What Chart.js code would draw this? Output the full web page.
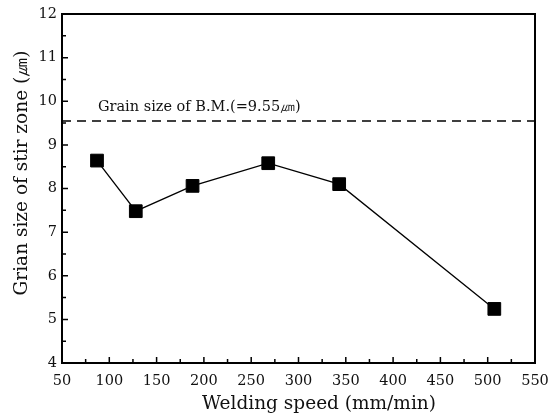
<!DOCTYPE html>
<html>
<head>
<meta charset="utf-8">
<script src="https://cdn.jsdelivr.net/npm/chart.js@4"></script>
<style>
  html, body { margin: 0; padding: 0; background: #fff; }
  #wrap { width: 560px; height: 417px; }
</style>
</head>
<body>
<div id="wrap"><canvas id="grainChart"></canvas></div>
<script>
  // data
  const speeds = [87, 128, 188, 268, 343, 507];
  const grainSizes = [8.64, 7.48, 8.06, 8.58, 8.10, 5.24];
  const baseMetal = 9.55;
  const baseMetalLabel = 'Grain size of B.M.(=9.55㎛)';
  const xTitle = 'Welding speed (mm/min)';
  const yTitle = 'Grian size of stir zone (㎛)';
  const xRange = [50, 550];
  const yRange = [4, 12];

  const serif = '"DejaVu Serif", "Liberation Serif", serif';

  // frame, inward ticks, annotation and axis titles
  const framePlugin = {
    id: 'frame',
    afterDatasetsDraw(chart) {
      const { ctx, chartArea: a, scales: { x, y } } = chart;
      ctx.save();
      ctx.strokeStyle = '#000';
      ctx.lineWidth = 2;
      ctx.strokeRect(a.left, a.top, a.right - a.left, a.bottom - a.top);

      ctx.lineWidth = 1.5;
      ctx.beginPath();
      for (let v = xRange[0] + 25; v < xRange[1]; v += 25) {
        const px = x.getPixelForValue(v);
        const len = v % 50 === 0 ? 6 : 4;
        ctx.moveTo(px, a.bottom);
        ctx.lineTo(px, a.bottom - len);
      }
      for (let v = yRange[0] + 0.5; v < yRange[1]; v += 0.5) {
        const py = y.getPixelForValue(v);
        const len = v % 1 === 0 ? 6 : 4;
        ctx.moveTo(a.left, py);
        ctx.lineTo(a.left + len, py);
      }
      ctx.stroke();

      ctx.fillStyle = '#111';
      ctx.font = '14.5px ' + serif;
      ctx.textBaseline = 'middle';
      ctx.textAlign = 'left';
      ctx.fillText(baseMetalLabel, x.getPixelForValue(88), y.getPixelForValue(9.87));

      ctx.font = '18.5px ' + serif;
      ctx.textAlign = 'center';
      ctx.fillText(xTitle, 319, 404);
      ctx.translate(22, 173);
      ctx.rotate(-Math.PI / 2);
      ctx.fillText(yTitle, 0, 0);
      ctx.restore();
    }
  };

  const ctx = document.getElementById('grainChart').getContext('2d');
  new Chart(ctx, {
    type: 'line',
    data: {
      datasets: [
        {
          data: speeds.map((s, i) => ({ x: s, y: grainSizes[i] })),
          borderColor: '#000',
          borderWidth: 1.3,
          pointStyle: 'rect',
          pointRadius: 9,
          pointBackgroundColor: '#000',
          pointBorderColor: '#000',
          pointBorderWidth: 1,
          tension: 0
        },
        {
          data: xRange.map(v => ({ x: v, y: baseMetal })),
          borderColor: '#000',
          borderWidth: 1.5,
          borderDash: [9, 6],
          pointRadius: 0
        }
      ]
    },
    options: {
      responsive: true,
      maintainAspectRatio: false,
      animation: false,
      layout: { padding: { left: 0, right: 25, top: 14, bottom: 0 } },
      plugins: { legend: { display: false }, tooltip: { enabled: false } },
      scales: {
        x: {
          type: 'linear',
          min: xRange[0], max: xRange[1],
          grid: { display: false, drawTicks: false },
          border: { display: false },
          ticks: { stepSize: 50, padding: 10, color: '#111', font: { family: serif, size: 14.5 } },
          afterFit: s => { s.height = 54; }
        },
        y: {
          min: yRange[0], max: yRange[1],
          grid: { display: false, drawTicks: false },
          border: { display: false },
          ticks: { stepSize: 1, padding: 5, color: '#111', font: { family: serif, size: 14.5 } },
          afterFit: s => { s.width = 62; }
        }
      }
    },
    plugins: [framePlugin]
  });
</script>
</body>
</html>
